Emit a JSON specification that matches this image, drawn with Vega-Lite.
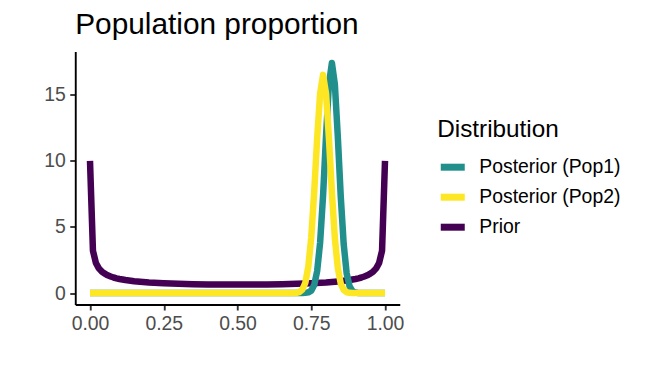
{
  "$schema": "https://vega.github.io/schema/vega-lite/v6.json",
  "autosize": {"type": "none"},
  "padding": {"left": 75.25, "top": 51.5, "right": 247.25, "bottom": 72.5},
  "width": 324.5,
  "height": 253,
  "background": "white",
  "title": {"text": "Population proportion", "anchor": "start", "frame": "group", "font": "Liberation Sans", "fontSize": 29.8, "fontWeight": "normal", "color": "#000000", "offset": 12},
  "config": {
    "view": {"stroke": null},
    "axis": {"grid": false, "domainColor": "#000000", "domainWidth": 1.9, "tickColor": "#333333", "tickWidth": 1.9, "tickSize": 5.5, "labelPadding": 4.5, "labelColor": "#4D4D4D", "labelFont": "Liberation Sans", "labelFontSize": 19.4, "title": null},
    "legend": {"padding": 0}
  },
  "data": {"values": [
    {"x": 0, "density": 10, "Distribution": "Prior"},
    {"x": 0.01, "density": 3.199, "Distribution": "Prior"},
    {"x": 0.02, "density": 2.274, "Distribution": "Prior"},
    {"x": 0.03, "density": 1.866, "Distribution": "Prior"},
    {"x": 0.04, "density": 1.624, "Distribution": "Prior"},
    {"x": 0.05, "density": 1.461, "Distribution": "Prior"},
    {"x": 0.06, "density": 1.34, "Distribution": "Prior"},
    {"x": 0.07, "density": 1.248, "Distribution": "Prior"},
    {"x": 0.08, "density": 1.173, "Distribution": "Prior"},
    {"x": 0.09, "density": 1.112, "Distribution": "Prior"},
    {"x": 0.1, "density": 1.061, "Distribution": "Prior"},
    {"x": 0.12, "density": 0.979, "Distribution": "Prior"},
    {"x": 0.15, "density": 0.891, "Distribution": "Prior"},
    {"x": 0.2, "density": 0.796, "Distribution": "Prior"},
    {"x": 0.25, "density": 0.735, "Distribution": "Prior"},
    {"x": 0.3, "density": 0.695, "Distribution": "Prior"},
    {"x": 0.35, "density": 0.667, "Distribution": "Prior"},
    {"x": 0.4, "density": 0.65, "Distribution": "Prior"},
    {"x": 0.45, "density": 0.64, "Distribution": "Prior"},
    {"x": 0.5, "density": 0.637, "Distribution": "Prior"},
    {"x": 0.55, "density": 0.64, "Distribution": "Prior"},
    {"x": 0.6, "density": 0.65, "Distribution": "Prior"},
    {"x": 0.65, "density": 0.667, "Distribution": "Prior"},
    {"x": 0.7, "density": 0.695, "Distribution": "Prior"},
    {"x": 0.75, "density": 0.735, "Distribution": "Prior"},
    {"x": 0.8, "density": 0.796, "Distribution": "Prior"},
    {"x": 0.85, "density": 0.891, "Distribution": "Prior"},
    {"x": 0.88, "density": 0.979, "Distribution": "Prior"},
    {"x": 0.9, "density": 1.061, "Distribution": "Prior"},
    {"x": 0.91, "density": 1.112, "Distribution": "Prior"},
    {"x": 0.92, "density": 1.173, "Distribution": "Prior"},
    {"x": 0.93, "density": 1.248, "Distribution": "Prior"},
    {"x": 0.94, "density": 1.34, "Distribution": "Prior"},
    {"x": 0.95, "density": 1.461, "Distribution": "Prior"},
    {"x": 0.96, "density": 1.624, "Distribution": "Prior"},
    {"x": 0.97, "density": 1.866, "Distribution": "Prior"},
    {"x": 0.98, "density": 2.274, "Distribution": "Prior"},
    {"x": 0.99, "density": 3.199, "Distribution": "Prior"},
    {"x": 1, "density": 10, "Distribution": "Prior"},

    {"x": 0, "density": 0, "Distribution": "Posterior (Pop1)"},
    {"x": 0.25, "density": 0, "Distribution": "Posterior (Pop1)"},
    {"x": 0.5, "density": 0, "Distribution": "Posterior (Pop1)"},
    {"x": 0.65, "density": 0, "Distribution": "Posterior (Pop1)"},
    {"x": 0.7, "density": 0, "Distribution": "Posterior (Pop1)"},
    {"x": 0.71, "density": 0.001, "Distribution": "Posterior (Pop1)"},
    {"x": 0.72, "density": 0.003, "Distribution": "Posterior (Pop1)"},
    {"x": 0.73, "density": 0.012, "Distribution": "Posterior (Pop1)"},
    {"x": 0.74, "density": 0.05, "Distribution": "Posterior (Pop1)"},
    {"x": 0.75, "density": 0.18, "Distribution": "Posterior (Pop1)"},
    {"x": 0.76, "density": 0.6, "Distribution": "Posterior (Pop1)"},
    {"x": 0.77, "density": 1.65, "Distribution": "Posterior (Pop1)"},
    {"x": 0.78, "density": 3.8, "Distribution": "Posterior (Pop1)"},
    {"x": 0.79, "density": 7.35, "Distribution": "Posterior (Pop1)"},
    {"x": 0.8, "density": 11.85, "Distribution": "Posterior (Pop1)"},
    {"x": 0.81, "density": 15.8, "Distribution": "Posterior (Pop1)"},
    {"x": 0.82, "density": 17.4, "Distribution": "Posterior (Pop1)"},
    {"x": 0.83, "density": 15.8, "Distribution": "Posterior (Pop1)"},
    {"x": 0.84, "density": 11.85, "Distribution": "Posterior (Pop1)"},
    {"x": 0.85, "density": 7.3, "Distribution": "Posterior (Pop1)"},
    {"x": 0.86, "density": 3.7, "Distribution": "Posterior (Pop1)"},
    {"x": 0.87, "density": 1.5, "Distribution": "Posterior (Pop1)"},
    {"x": 0.88, "density": 0.5, "Distribution": "Posterior (Pop1)"},
    {"x": 0.89, "density": 0.13, "Distribution": "Posterior (Pop1)"},
    {"x": 0.9, "density": 0.03, "Distribution": "Posterior (Pop1)"},
    {"x": 0.91, "density": 0.005, "Distribution": "Posterior (Pop1)"},
    {"x": 0.92, "density": 0.001, "Distribution": "Posterior (Pop1)"},
    {"x": 0.93, "density": 0, "Distribution": "Posterior (Pop1)"},
    {"x": 0.96, "density": 0, "Distribution": "Posterior (Pop1)"},
    {"x": 1, "density": 0, "Distribution": "Posterior (Pop1)"},

    {"x": 0, "density": 0, "Distribution": "Posterior (Pop2)"},
    {"x": 0.25, "density": 0, "Distribution": "Posterior (Pop2)"},
    {"x": 0.5, "density": 0, "Distribution": "Posterior (Pop2)"},
    {"x": 0.65, "density": 0, "Distribution": "Posterior (Pop2)"},
    {"x": 0.68, "density": 0.001, "Distribution": "Posterior (Pop2)"},
    {"x": 0.69, "density": 0.004, "Distribution": "Posterior (Pop2)"},
    {"x": 0.7, "density": 0.018, "Distribution": "Posterior (Pop2)"},
    {"x": 0.71, "density": 0.075, "Distribution": "Posterior (Pop2)"},
    {"x": 0.72, "density": 0.26, "Distribution": "Posterior (Pop2)"},
    {"x": 0.73, "density": 0.78, "Distribution": "Posterior (Pop2)"},
    {"x": 0.74, "density": 1.97, "Distribution": "Posterior (Pop2)"},
    {"x": 0.75, "density": 4.22, "Distribution": "Posterior (Pop2)"},
    {"x": 0.76, "density": 7.65, "Distribution": "Posterior (Pop2)"},
    {"x": 0.77, "density": 11.7, "Distribution": "Posterior (Pop2)"},
    {"x": 0.78, "density": 15.1, "Distribution": "Posterior (Pop2)"},
    {"x": 0.79, "density": 16.5, "Distribution": "Posterior (Pop2)"},
    {"x": 0.8, "density": 15.1, "Distribution": "Posterior (Pop2)"},
    {"x": 0.81, "density": 11.7, "Distribution": "Posterior (Pop2)"},
    {"x": 0.82, "density": 7.6, "Distribution": "Posterior (Pop2)"},
    {"x": 0.83, "density": 4.15, "Distribution": "Posterior (Pop2)"},
    {"x": 0.84, "density": 1.9, "Distribution": "Posterior (Pop2)"},
    {"x": 0.85, "density": 0.72, "Distribution": "Posterior (Pop2)"},
    {"x": 0.86, "density": 0.23, "Distribution": "Posterior (Pop2)"},
    {"x": 0.87, "density": 0.06, "Distribution": "Posterior (Pop2)"},
    {"x": 0.88, "density": 0.013, "Distribution": "Posterior (Pop2)"},
    {"x": 0.89, "density": 0.002, "Distribution": "Posterior (Pop2)"},
    {"x": 0.9, "density": 0, "Distribution": "Posterior (Pop2)"},
    {"x": 0.95, "density": 0, "Distribution": "Posterior (Pop2)"},
    {"x": 1, "density": 0, "Distribution": "Posterior (Pop2)"}
  ]},
  "mark": {"type": "line", "strokeWidth": 6.5, "strokeCap": "butt", "strokeJoin": "round"},
  "encoding": {
    "x": {"field": "x", "type": "quantitative", "scale": {"domain": [-0.05, 1.05], "nice": false, "zero": false}, "axis": {"values": [0, 0.25, 0.5, 0.75, 1], "format": ".2f"}},
    "y": {"field": "density", "type": "quantitative", "scale": {"domain": [-0.87, 18.27], "nice": false, "zero": false}, "axis": {"values": [0, 5, 10, 15]}},
    "color": {
      "field": "Distribution", "type": "nominal",
      "scale": {"domain": ["Posterior (Pop1)", "Posterior (Pop2)", "Prior"], "range": ["#21908C", "#FDE725", "#440154"]},
      "legend": {"orient": "none", "legendX": 362, "legendY": 66.6, "title": "Distribution", "titleFont": "Liberation Sans", "titleFontSize": 24.3, "titleFontWeight": "normal", "titleColor": "#000000", "titlePadding": 9.3, "labelFont": "Liberation Sans", "labelFontSize": 19.4, "labelColor": "#000000", "labelOffset": 11, "symbolType": "stroke", "symbolSize": 576, "symbolStrokeWidth": 7, "rowPadding": -1.6}
    }
  }
}
